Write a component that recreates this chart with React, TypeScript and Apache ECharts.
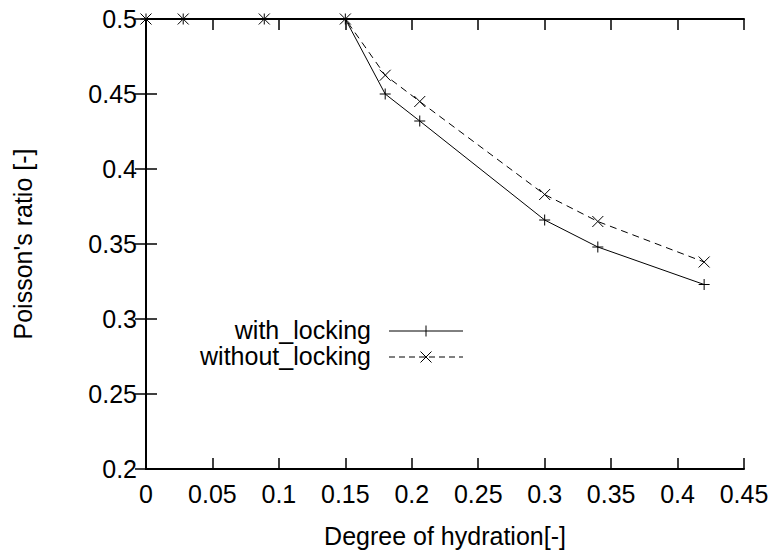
import React, { useEffect, useRef } from "react";
import * as echarts from "echarts";

const hydration = [0, 0.028, 0.089, 0.15, 0.18, 0.206, 0.3, 0.34, 0.42];
const withLocking = [0.5, 0.5, 0.5, 0.5, 0.45, 0.432, 0.366, 0.348, 0.323];
const withoutLocking = [0.5, 0.5, 0.5, 0.5, 0.4625, 0.445, 0.383, 0.365, 0.338];
const seriesNames = ["with_locking", "without_locking"];
const xLabel = "Degree of hydration[-]";
const yLabel = "Poisson's ratio [-]";

const FONT = "'Liberation Sans', Arial, Helvetica, sans-serif";
const PLUS = "path://M0,5L10,5M5,0L5,10";
const CROSS = "path://M0,0L10,10M0,10L10,0";

export default function App() {
  const ref = useRef<HTMLDivElement>(null);
  useEffect(() => {
    if (!ref.current) return;
    const chart = echarts.init(ref.current, null, { renderer: "svg" });
    const axisCommon = {
      type: "value" as const,
      axisLine: { show: true, lineStyle: { color: "#000", width: 2 } },
      axisTick: { show: true, inside: true, length: 11, lineStyle: { color: "#000", width: 1.5 } },
      splitLine: { show: false },
    };
    const lbl = { color: "#000", fontSize: 25, fontFamily: FONT };
    const pair = (a: number[]) => hydration.map((x, i) => [x, a[i]]);
    chart.setOption({
      animation: false,
      backgroundColor: "#fff",
      grid: { left: 146, right: 35, top: 19, bottom: 85 },
      xAxis: [
        {
          ...axisCommon,
          position: "bottom",
          min: 0,
          max: 0.45,
          interval: 0.05,
          axisLabel: { ...lbl, margin: 12 },
          name: xLabel,
          nameLocation: "middle",
          nameGap: 54,
          nameTextStyle: { ...lbl },
        },
        {
          ...axisCommon,
          position: "top",
          min: 0,
          max: 0.45,
          interval: 0.05,
          axisLabel: { show: false },
        },
      ],
      yAxis: [
        {
          ...axisCommon,
          position: "left",
          min: 0.2,
          max: 0.5,
          interval: 0.05,
          axisLabel: { ...lbl, margin: 9 },
          name: yLabel,
          nameLocation: "middle",
          nameGap: 111,
          nameTextStyle: { ...lbl },
        },
        {
          ...axisCommon,
          position: "right",
          min: 0.2,
          max: 0.5,
          interval: 0.05,
          axisLabel: { show: false },
        },
      ],
      series: [
        {
          name: seriesNames[0],
          type: "line",
          data: pair(withLocking),
          symbol: PLUS,
          symbolSize: 11,
          showAllSymbol: true,
          clip: false,
          lineStyle: { color: "#000", width: 1 },
          itemStyle: { color: "none", borderColor: "#000", borderWidth: 1 },
          z: 3,
        },
        {
          name: seriesNames[1],
          type: "line",
          data: pair(withoutLocking),
          symbol: CROSS,
          symbolSize: 11,
          showAllSymbol: true,
          clip: false,
          lineStyle: { color: "#000", width: 1, type: [7, 5] },
          itemStyle: { color: "none", borderColor: "#000", borderWidth: 1 },
          z: 3,
        },
      ],
      graphic: [
        {
          type: "text",
          right: 779 - 371,
          top: 331 - 14,
          style: { text: seriesNames[0], fill: "#000", font: `25px ${FONT}`, textAlign: "right" },
        },
        {
          type: "text",
          right: 779 - 371,
          top: 357 - 14,
          style: { text: seriesNames[1], fill: "#000", font: `25px ${FONT}`, textAlign: "right" },
        },
        { type: "line", shape: { x1: 389, y1: 331, x2: 463, y2: 331 }, style: { stroke: "#000", lineWidth: 1 } },
        { type: "line", shape: { x1: 426, y1: 325.5, x2: 426, y2: 336.5 }, style: { stroke: "#000", lineWidth: 1 } },
        { type: "line", shape: { x1: 389, y1: 357, x2: 463, y2: 357 }, style: { stroke: "#000", lineWidth: 1, lineDash: [6, 4] } },
        { type: "line", shape: { x1: 420.5, y1: 351.5, x2: 431.5, y2: 362.5 }, style: { stroke: "#000", lineWidth: 1 } },
        { type: "line", shape: { x1: 420.5, y1: 362.5, x2: 431.5, y2: 351.5 }, style: { stroke: "#000", lineWidth: 1 } },
      ],
    });
    return () => chart.dispose();
  }, []);
  return <div ref={ref} style={{ position: "fixed", left: 0, top: 0, width: 779, height: 554 }} />;
}
